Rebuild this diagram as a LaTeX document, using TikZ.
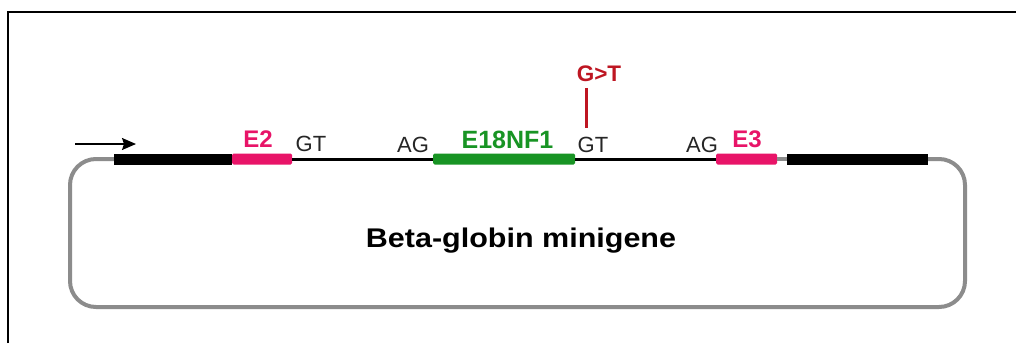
\documentclass[tikz,border=0pt]{standalone}
\usepackage{fontspec}
\setmainfont{Liberation Sans}
\usetikzlibrary{arrows.meta}
\definecolor{exonpink}{RGB}{232,20,104}
\definecolor{exongreen}{RGB}{24,148,36}
\definecolor{mutred}{RGB}{190,22,34}
\definecolor{vecgrey}{RGB}{140,140,140}
\tikzset{
  bar/.style={rectangle, inner sep=0pt, minimum height=11pt, rounded corners=1.5pt},
  intron/.style={line width=3pt, black},
  backbone/.style={line width=4pt, vecgrey, rounded corners=26pt},
  site/.style={anchor=base, font=\fontsize{22}{22}\selectfont, text=black!85},
  exonlab/.style={anchor=base, font=\fontsize{24}{24}\selectfont\bfseries},
}
\begin{document}
\begin{tikzpicture}[x=1pt, y=-1pt]
\useasboundingbox (0,0) rectangle (1016,343);
\fill[white] (0,0) rectangle (1016,343);
% frame
\draw[line width=2pt] (8,343) -- (8,12) -- (1016,12);

% exons and flanking vector sequence
\node[bar, fill=black, rounded corners=0pt, minimum width=118pt] (up) at (173,159) {};
\node[bar, fill=exonpink, minimum width=60pt] (e2) at (262,159) {};
\node[bar, fill=exongreen, minimum width=142pt] (ex18) at (504,159) {};
\node[bar, fill=exonpink, minimum width=61pt] (e3) at (746.5,159) {};
\node[bar, fill=black, rounded corners=0pt, minimum width=141pt] (down) at (857.5,159) {};

% introns
\draw[intron] (e2.east) -- (ex18.west);
\draw[intron] (ex18.east) -- (e3.west);

% plasmid backbone
\coordinate (c1) at (965,159);
\coordinate (c2) at (965,307);
\coordinate (c3) at (70,307);
\coordinate (c4) at (70,159);
\draw[line width=4pt, vecgrey] (e3.east) -- (down.west);
\draw[backbone] (down.east) -- (c1) -- (c2) -- (c3) -- (c4) -- (up.west);

% transcription direction
\coordinate (a0) at (75,144);
\coordinate (a1) at (136,144);
\draw[line width=1.5pt, -{Stealth[length=14pt, width=12pt, inset=2pt]}] (a0) -- (a1);

% labels
\node[exonlab, text=exonpink] (le2) at (258,147) {E2};
\node[site] (gt1) at (311,151) {GT};
\node[site] (ag1) at (413,152) {AG};
\node[exonlab, text=exongreen, font=\fontsize{25}{25}\selectfont\bfseries] (lex18) at (507.5,148) {E18NF1};
\node[site] (gt2) at (593,152) {GT};
\node[site] (ag2) at (702,152) {AG};
\node[exonlab, text=exonpink] (le3) at (747,147) {E3};

% mutation
\node[exonlab, text=mutred, font=\fontsize{22.5}{22.5}\selectfont\bfseries] (mut) at (599,81) {G>T};
\coordinate (m1) at (586,128);
\draw[line width=3pt, mutred] (mut.south -| m1) ++(0,3) -- (m1);

% title
\node[anchor=base, font=\fontsize{27}{27}\selectfont\bfseries, xscale=1.13] (title) at (521,247) {Beta-globin minigene};
\end{tikzpicture}
\end{document}
